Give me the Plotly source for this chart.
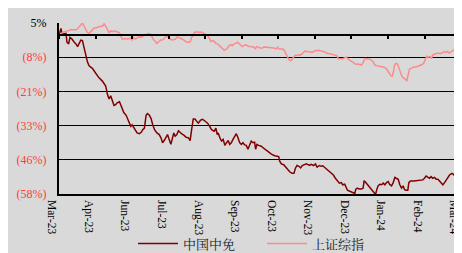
import plotly.graph_objects as go

# X positions are trading-day indices (one tick label every 22 trading days)
tick_days = [0, 22, 44, 66, 88, 110, 132, 154, 176, 198, 220, 242]
tick_labels = ["Mar-23", "Apr-23", "Jun-23", "Jul-23", "Aug-23", "Sep-23",
               "Oct-23", "Nov-23", "Dec-23", "Jan-24", "Feb-24", "Mar-24"]

# Y ticks (percent) and their labels
y_ticks = [4.6, -8.0, -20.6, -33.2, -45.8, -58.4]
y_labels = ["5%", "(8%)", "(21%)", "(33%)", "(46%)", "(58%)"]

# 中国中免 cumulative return (%)
cdf_day = [
    0, 1.2, 1.8, 3.2, 4.2, 4.8, 5.8, 6.6, 7.8, 9.2,
    10.2, 11.2, 12.1, 13.1, 14.1, 15.1, 16.1, 17.1, 18.1, 20.1,
    22.1, 24.1, 26.1, 28.1, 29.1, 30.1, 31.1, 32.1, 33.1, 34.1,
    35.0, 36.4, 37.6, 39.0, 40.4, 41.6, 42.4, 43.2, 44.0, 45.0,
    46.0, 47.0, 48.4, 49.6, 50.4, 51.4, 52.4, 53.2, 54.4, 55.4,
    56.4, 57.5, 58.9, 60.3, 61.5, 62.3, 63.3, 64.5, 65.3, 66.3,
    67.3, 68.3, 69.1, 69.9, 70.9, 71.9, 72.9, 73.9, 75.3, 76.5,
    77.9, 78.9, 79.8, 80.8, 81.8, 82.8, 83.8, 85.2, 86.4, 87.8,
    89.4, 90.4, 91.8, 93.4, 94.4, 95.2, 95.8, 96.8, 97.8, 98.8,
    99.8, 100.8, 101.8, 102.7, 103.7, 104.7, 105.7, 106.7, 107.7, 108.7,
    109.7, 110.7, 111.7, 112.7, 113.7, 114.7, 115.7, 116.7, 117.7, 118.3,
    119.1, 120.1, 121.7, 123.9, 125.8, 127.8, 129.8, 131.2, 132.2, 132.8,
    133.8, 135.2, 136.4, 137.8, 138.8, 140.2, 141.4, 142.2, 143.2, 144.4,
    145.4, 146.4, 147.7, 148.8, 149.8, 150.7, 151.7, 153.1, 154.3, 155.3,
    156.7, 157.7, 158.7, 159.7, 161.1, 162.3, 163.7, 165.1, 166.3, 167.3,
    168.7, 169.9, 170.7, 171.9, 172.6, 173.6, 175.0, 176.6, 178.0, 178.6,
    179.6, 180.6, 182.0, 183.0, 183.6, 184.6, 185.6, 186.5, 187.5, 188.5,
    189.5, 190.5, 191.2, 192.0, 193.0, 194.1, 195.1, 196.1, 197.1, 198.1,
    198.9, 200.1, 201.1, 202.1, 202.9, 204.1, 205.1, 206.1, 207.1, 207.9,
    208.9, 209.9, 210.5, 211.5, 213.5, 215.5, 217.5, 218.9, 219.9, 220.9,
    222.1, 222.9, 223.9, 224.9, 226.0, 227.0, 228.0, 229.0, 230.0, 231.0,
    232.0, 233.0, 234.0, 235.0, 236.4, 237.4, 238.4, 239.4, 240.4, 241.4,
    242.4, 243.3, 244.3,
]
cdf_pct = [
    0.0, 2.6, 0.5, 0.7, 0.8, -2.5, -3.1, -0.7, -1.3, -2.5,
    -3.1, -4.1, -2.9, -1.7, -1.9, -4.9, -7.9, -9.7, -11.2, -12.1,
    -13.9, -15.6, -16.8, -18.6, -21.6, -23.4, -22.2, -24.0, -25.8, -25.5,
    -24.8, -24.4, -26.4, -28.4, -29.4, -31.2, -32.9, -33.5, -32.9, -34.1,
    -34.7, -35.9, -36.2, -35.6, -34.7, -34.1, -29.4, -28.8, -29.4, -30.6,
    -32.9, -34.7, -35.9, -36.5, -37.9, -39.5, -38.7, -37.1, -36.5, -38.3,
    -40.1, -37.7, -35.9, -37.1, -36.5, -35.1, -35.9, -36.3, -36.8, -37.5,
    -37.7, -38.7, -34.7, -30.8, -30.8, -31.7, -32.3, -31.2, -30.9, -31.5,
    -32.3, -33.2, -34.7, -35.3, -34.1, -36.5, -35.9, -37.7, -38.9, -38.3,
    -40.5, -39.5, -38.7, -40.1, -39.5, -38.3, -37.1, -36.2, -37.7, -39.5,
    -40.1, -39.5, -40.3, -40.5, -41.9, -40.1, -38.9, -39.5, -39.3, -41.9,
    -40.1, -40.5, -40.8, -41.9, -42.9, -43.7, -44.3, -44.5, -44.6, -46.3,
    -47.3, -47.6, -48.5, -49.4, -50.2, -50.8, -50.8, -49.0, -47.9, -48.2,
    -48.8, -47.9, -47.5, -47.3, -47.6, -47.9, -47.5, -47.9, -47.3, -48.5,
    -47.9, -48.2, -48.0, -48.5, -49.4, -50.0, -50.6, -51.4, -52.6, -53.5,
    -54.4, -54.2, -55.0, -54.8, -55.6, -57.0, -57.4, -57.8, -58.2, -56.6,
    -56.2, -56.6, -56.6, -56.2, -53.5, -54.2, -55.0, -55.6, -56.2, -57.0,
    -57.8, -58.6, -56.8, -55.4, -54.8, -55.0, -54.4, -55.0, -54.2, -53.8,
    -54.8, -55.4, -54.2, -52.3, -52.6, -53.0, -55.0, -56.2, -55.4, -56.8,
    -57.0, -57.0, -54.2, -53.6, -53.6, -53.5, -53.3, -53.2, -52.6, -51.8,
    -52.3, -52.6, -52.0, -52.6, -52.3, -53.0, -53.0, -53.6, -54.2, -55.0,
    -54.2, -53.2, -52.3, -51.4, -50.8, -51.2, -52.0, -53.2, -53.8, -53.6,
    -54.1, -53.0, -53.5,
]

# 上证综指 cumulative return (%)
sse_day = [
    0, 1.2, 2.2, 3.2, 4.2, 5.2, 6.2, 7.2, 8.2, 9.2,
    10.2, 11.2, 12.1, 13.1, 14.1, 15.1, 16.1, 17.1, 18.1, 19.1,
    20.1, 21.1, 22.1, 23.1, 24.1, 25.1, 26.1, 27.1, 28.1, 29.1,
    30.1, 31.1, 32.1, 33.1, 34.1, 35.0, 36.0, 37.0, 38.0, 39.0,
    40.0, 41.0, 42.0, 43.0, 44.0, 45.0, 46.0, 47.0, 48.0, 49.0,
    50.0, 51.0, 52.0, 53.0, 54.0, 55.0, 56.0, 57.0, 58.0, 58.9,
    60.1, 61.1, 62.1, 63.1, 64.1, 65.1, 66.1, 67.1, 68.1, 69.1,
    70.1, 71.1, 72.1, 73.1, 74.1, 75.1, 76.1, 77.1, 78.1, 79.1,
    79.7, 80.7, 81.4, 82.4, 83.4, 84.4, 85.4, 86.4, 87.4, 88.4,
    89.4, 90.4, 91.4, 92.4, 93.4, 94.4, 95.4, 96.4, 97.4, 98.4,
    99.4, 100.4, 101.4, 102.4, 103.3, 104.3, 105.3, 106.3, 107.3, 108.3,
    109.3, 110.3, 111.3, 112.3, 113.3, 114.3, 115.3, 116.3, 117.3, 118.3,
    118.9, 119.9, 120.9, 122.5, 123.3, 125.2, 127.2, 129.2, 130.8, 131.6,
    132.4, 133.6, 134.8, 135.6, 136.4, 137.2, 138.2, 139.2, 140.2, 141.2,
    142.2, 143.2, 144.2, 145.2, 146.2, 147.2, 148.2, 149.2, 150.1, 151.1,
    152.1, 153.1, 154.1, 155.1, 156.1, 157.1, 158.1, 159.1, 160.1, 161.1,
    162.1, 163.1, 164.1, 165.1, 166.1, 167.1, 168.1, 169.1, 170.1, 171.0,
    172.0, 173.0, 173.6, 174.6, 175.6, 176.6, 177.6, 178.6, 180.0, 181.0,
    182.0, 183.0, 184.0, 185.4, 187.4, 189.0, 190.0, 191.4, 193.0, 194.3,
    195.7, 196.7, 197.7, 198.7, 199.7, 200.5, 201.3, 201.9, 202.7, 203.7,
    204.5, 205.3, 206.3, 207.3, 208.3, 209.3, 210.1, 210.9, 211.7, 213.3,
    215.3, 217.2, 218.8, 219.6, 220.4, 221.2, 222.2, 223.2, 224.2, 224.8,
    225.6, 226.8, 228.2, 229.6, 230.8, 231.8, 232.8, 233.8, 234.8, 235.8,
    236.8, 237.7, 238.7, 239.7, 240.7, 241.7, 242.7, 243.7,
]
sse_pct = [
    0.0, 0.7, 1.1, 1.4, 1.7, 1.7, 1.9, 2.2, 2.1, 2.2,
    2.1, 2.5, 3.1, 3.8, 4.6, 3.4, 2.2, 1.1, 0.7, 1.4,
    2.2, 2.8, 2.8, 3.1, 3.1, 3.4, 3.4, 4.3, 3.4, 2.2,
    1.1, 1.7, 1.4, 1.7, 1.4, 1.4, 1.1, 0.2, -1.3, -1.3,
    -1.1, -1.3, -1.1, -1.0, -1.7, -0.7, -1.3, -1.0, -0.5, -0.7,
    -0.5, -0.1, 0.2, 0.5, 0.7, 0.5, -0.7, -1.7, -2.2, -2.9,
    -2.2, -1.7, -1.7, -1.3, -0.5, -0.1, -1.0, -1.3, -1.7, -1.5,
    -1.3, -0.5, -0.7, -1.0, -1.3, -1.7, -2.2, -2.5, -2.5, -2.2,
    -0.7, -0.1, 1.1, 1.4, 1.4, 1.1, 1.3, 1.1, 0.7, 0.5,
    -0.1, -1.0, -2.2, -1.9, -2.2, -2.9, -3.1, -3.7, -4.3, -4.9,
    -5.5, -5.1, -4.6, -3.7, -3.4, -3.7, -3.1, -2.9, -2.5, -2.9,
    -3.4, -4.1, -3.7, -3.4, -3.7, -4.1, -4.1, -4.3, -4.3, -4.9,
    -4.1, -4.3, -4.6, -4.6, -4.2, -4.3, -4.4, -4.6, -4.9, -4.3,
    -5.0, -4.9, -5.0, -5.5, -6.7, -7.9, -8.8, -9.3, -8.8, -7.9,
    -7.3, -7.3, -7.1, -7.3, -6.7, -6.1, -5.7, -5.9, -6.0, -5.9,
    -6.2, -6.0, -5.5, -5.7, -5.4, -5.6, -5.7, -5.9, -6.2, -6.5,
    -6.7, -6.7, -6.9, -6.9, -7.1, -7.4, -8.6, -8.7, -8.6, -8.5,
    -8.1, -7.9, -8.5, -9.1, -9.4, -9.7, -10.3, -10.6, -10.5, -10.6,
    -10.9, -10.0, -8.5, -8.6, -8.8, -9.7, -10.9, -11.2, -11.5, -11.5,
    -11.7, -12.1, -12.9, -13.9, -14.8, -15.0, -13.3, -10.9, -10.3, -10.5,
    -12.1, -13.9, -15.0, -15.6, -16.2, -16.6, -14.5, -12.4, -12.1, -11.7,
    -11.5, -11.1, -10.6, -10.0, -8.5, -7.7, -8.1, -7.7, -8.5, -7.3,
    -6.9, -6.7, -6.5, -6.7, -6.1, -5.9, -6.2, -5.9, -6.5, -6.0,
    -5.5, -5.3, -5.5, -6.1, -6.7, -6.5, -6.9, -7.7,
]

X_RANGE = [0, 244.3]
Y_RANGE = [-58.4, 4.6]
BG = "#d9d9d9"
SERIF = "Liberation Serif, Times New Roman, serif"

y_text = [lab if not lab.startswith("(") else
          '<span style="color:#ff3b3b">' + lab + "</span>" for lab in y_labels]

fig = go.Figure()
fig.add_trace(go.Scatter(
    x=cdf_day, y=cdf_pct, mode="lines", name="中国中免",
    line=dict(color="#800000", width=1.5)))
fig.add_trace(go.Scatter(
    x=sse_day, y=sse_pct, mode="lines", name="上证综指",
    line=dict(color="#ff8a8a", width=1.5), xaxis="x2"))

zero_pos = (0 - Y_RANGE[0]) / (Y_RANGE[1] - Y_RANGE[0])

fig.update_layout(
    width=462, height=253,
    margin=dict(l=51, r=3, t=15, b=62),
    paper_bgcolor=BG, plot_bgcolor=BG,
    font=dict(family=SERIF, size=12, color="black"),
    showlegend=True,
    legend=dict(orientation="h", x=0.5, xanchor="center", y=-0.29, yanchor="middle",
                bgcolor="rgba(0,0,0,0)",
                font=dict(family="Noto Serif CJK SC, Noto Sans CJK SC", size=13,
                          color="#222222"),
                entrywidth=74, itemwidth=40, tracegroupgap=0),
    xaxis=dict(range=X_RANGE, tickmode="array", tickvals=tick_days, ticktext=tick_labels,
               tickangle=90, showline=True, linecolor="black", linewidth=1.5,
               showgrid=False, zeroline=False, ticks="",
               ticklabelshift=-7, ticklabelstandoff=2,
               tickfont=dict(family=SERIF, size=11.5, color="black")),
    xaxis2=dict(range=X_RANGE, overlaying="x", anchor="free", position=zero_pos,
                side="bottom", tickmode="array", tickvals=tick_days,
                showticklabels=False, showline=True, linecolor="black", linewidth=1.5,
                ticks="outside", ticklen=3, tickwidth=1.5, tickcolor="black",
                showgrid=False, zeroline=False),
    yaxis=dict(range=Y_RANGE, tickmode="array", tickvals=y_ticks, ticktext=y_text,
               showgrid=True, gridcolor="black", gridwidth=1,
               showline=True, linecolor="black", linewidth=2, mirror=True,
               zeroline=False, ticks="", ticklabelstandoff=8,
               tickfont=dict(family=SERIF, size=12, color="black")),
)

fig.write_html("out.html")
